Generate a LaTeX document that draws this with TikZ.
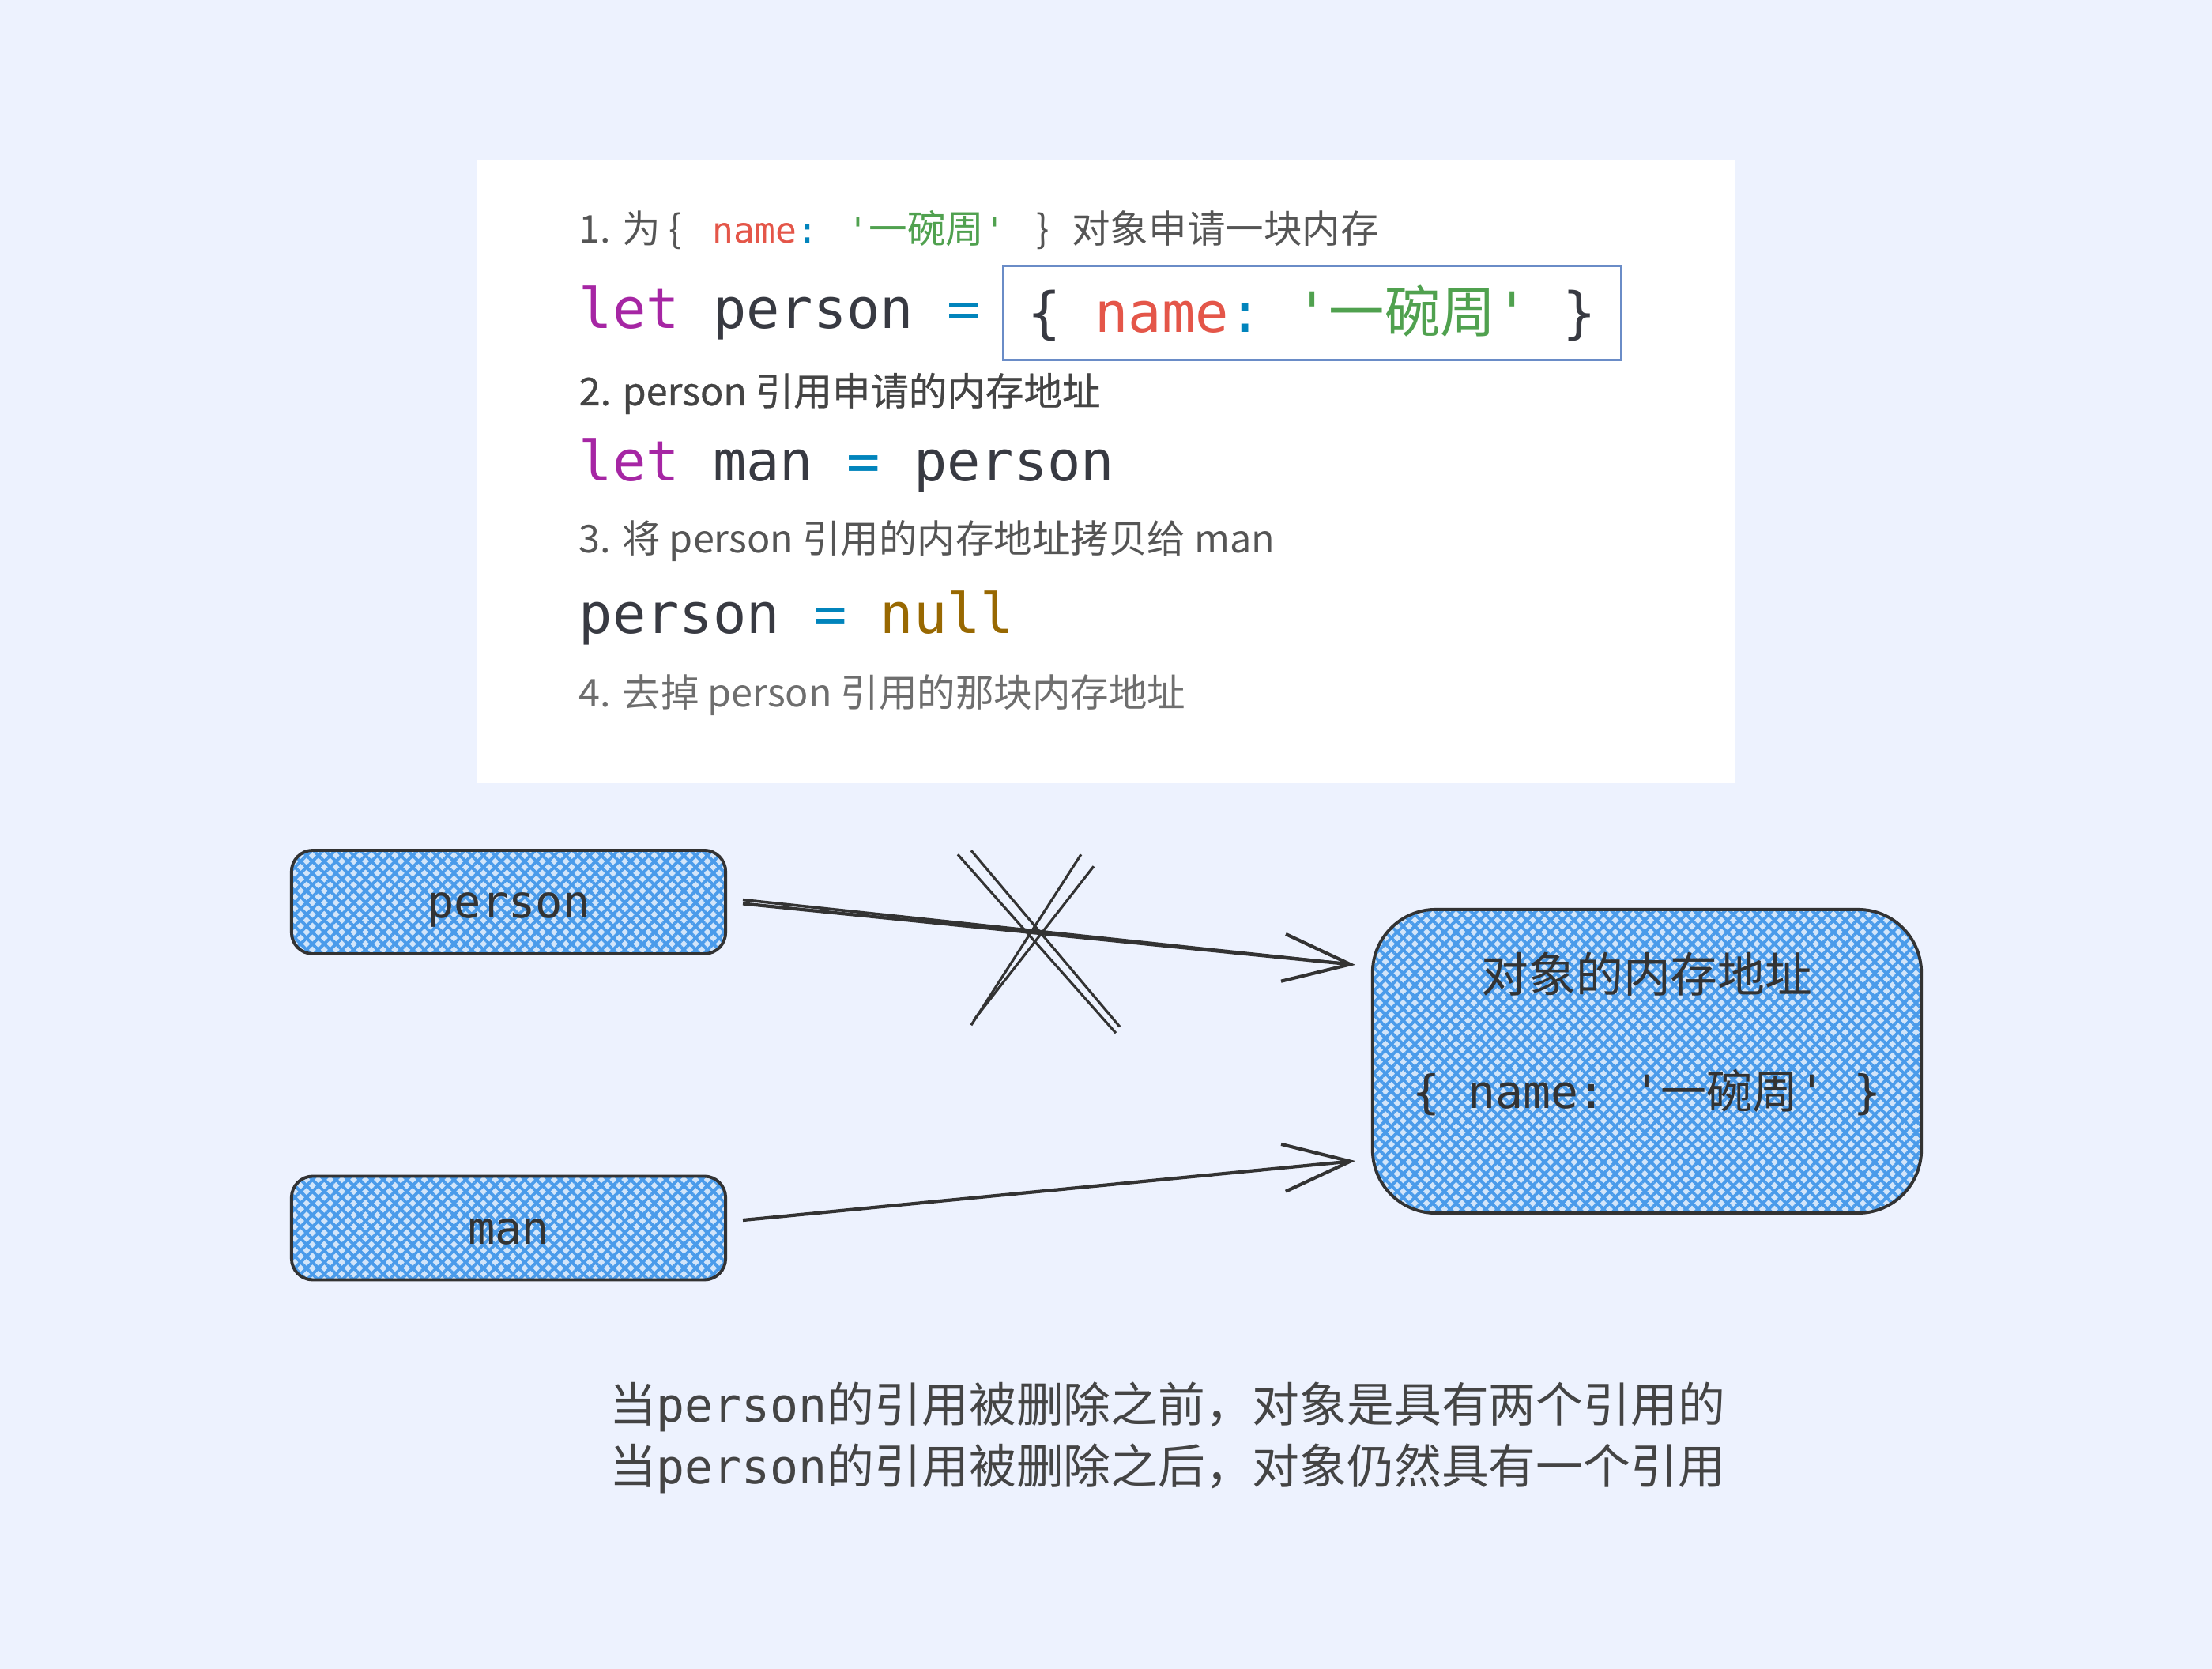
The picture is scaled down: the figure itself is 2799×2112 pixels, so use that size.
\documentclass[tikz,border=0pt]{standalone}
\usepackage{fontspec}
\setmainfont{Noto Sans CJK SC}
\setmonofont{DejaVu Sans Mono}
\newfontfamily\stepbold{Noto Sans CJK SC}[FakeBold=0.6]
\usetikzlibrary{positioning, arrows.meta, patterns.meta}

\definecolor{pagebg}{HTML}{EDF2FE}
\definecolor{kwpurple}{HTML}{A626A4}
\definecolor{codeplain}{HTML}{383A42}
\definecolor{opcyan}{HTML}{0184BC}
\definecolor{keyred}{HTML}{E45649}
\definecolor{strgreen}{HTML}{50A14F}
\definecolor{nullgold}{HTML}{986801}
\definecolor{litborder}{HTML}{6A8CC7}
\definecolor{stepgray}{HTML}{555555}
\definecolor{inkgray}{HTML}{333333}
\definecolor{captiongray}{HTML}{444444}
\definecolor{hatchblue}{HTML}{4A9BEA}
\definecolor{hatchlight}{HTML}{D2E5FA}

\newcommand{\zh}[1]{{\rmfamily #1}}
\newcommand{\sq}{\textquotesingle}
\newcommand{\codesize}{\ttfamily\fontsize{20pt}{24pt}\selectfont}
\newcommand{\codesmall}{\ttfamily\fontsize{12.7pt}{15pt}\selectfont}

\tikzset{
    step-text/.style = {anchor=west, inner sep=0pt, text=stepgray, font=\fontsize{13.8pt}{16pt}\selectfont},
    code-text/.style = {anchor=west, inner sep=0pt, text=codeplain, font=\codesize},
    literal-box/.style = {draw=litborder, thick, inner sep=0pt, minimum width=7.82cm, minimum height=1.19cm, text=codeplain, font=\codesize},
    mem-box/.style = {draw=inkgray, line width=1.1pt, rounded corners=0.27cm, preaction={fill=hatchlight}, pattern={Hatch[angle=45, distance=3pt, line width=1.1pt]}, pattern color=hatchblue, minimum width=5.49cm, minimum height=1.31cm, text height=11.5pt, text depth=0pt, text=inkgray, font=\ttfamily\fontsize{16.2pt}{19pt}\selectfont},
    box-text/.style = {inner sep=0pt, text=inkgray, font=\fontsize{17pt}{20pt}\selectfont},
    ref-arrow/.style = {draw=inkgray, line width=1.2pt, -{Straight Barb[length=0.85cm, width=0.6cm]}, shorten <=0.2cm, shorten >=0.2cm},
    ref-line/.style = {draw=inkgray, line width=1pt, shorten <=0.2cm, shorten >=0.3cm},
    cross-line/.style = {draw=inkgray, line width=0.9pt},
    caption-text/.style = {align=left, inner sep=0pt, text=captiongray, font=\fontsize{17pt}{22.2pt}\selectfont},
}

\begin{document}
\begin{tikzpicture}[x=0.01cm, y=0.01cm]
\useasboundingbox (0,0) rectangle (2799,2112);
\fill[pagebg] (0,0) rectangle (2799,2112);
\fill[white] (603,1121) rectangle (2196,1910);

% code steps
\node[step-text] (step-one) at (732,1821) {1. 为 \{ {\codesmall\ \color{keyred}name}{\codesmall\color{opcyan}:}\hspace{0.37cm}{\codesmall\color{strgreen}\sq}{\color{strgreen}一碗周}{\codesmall\color{strgreen}\sq}\hspace{0.39cm}\}\hspace{0.29cm}对象申请一块内存};
\node[code-text] (code-one) at (732,1716) {{\color{kwpurple}let} person {\color{opcyan}=}};
\node[literal-box, right=0.26cm of code-one] (literal) {\{ {\color{keyred}name}{\color{opcyan}:} {\color{strgreen}\sq\zh{一碗周}\sq} \}};
\node[step-text, text=captiongray, font=\stepbold\fontsize{13.8pt}{16pt}\selectfont] (step-two) at (732,1614) {2. person 引用申请的内存地址};
\node[code-text] (code-two) at (732,1523) {{\color{kwpurple}let} man {\color{opcyan}=} person};
\node[step-text] (step-three) at (732,1427) {3. 将 person 引用的内存地址拷贝给 man};
\node[code-text] (code-three) at (732,1330) {person {\color{opcyan}=} {\color{nullgold}null}};
\node[step-text, text=stepgray!85] (step-four) at (732,1232) {4. 去掉 person 引用的那块内存地址};

% references
\node[mem-box] (person) at (643.5,970.5) {person};
\node[mem-box] (man) at (643.5,558) {man};
\node[mem-box, rounded corners=0.8cm, minimum width=6.94cm, minimum height=3.84cm] (obj) at (2084,769) {};
\node[box-text] (obj-title) at ([yshift=-0.84cm]obj.north) {对象的内存地址};
\node[box-text, font=\ttfamily\fontsize{16.5pt}{20pt}\selectfont] (obj-literal) at ([yshift=-2.34cm]obj.north) {\{ name: \sq\zh{一碗周}\sq\ \}};

\draw[ref-arrow] (person.east) -- coordinate[pos=0.476] (cut) ([yshift=1.2cm]obj.west);
\draw[ref-line] ([yshift=0.05cm]person.east) -- ([yshift=1.2cm]obj.west);
\draw[ref-arrow] ([yshift=0.08cm]man.east) -- ([yshift=-1.24cm]obj.west);

% cut mark
\draw[cross-line] ([shift={(-96,99)}]cut) -- ([shift={(104,-127)}]cut);
\draw[cross-line] ([shift={(-79,104)}]cut) -- ([shift={(109,-119)}]cut);
\draw[cross-line] ([shift={(60,99)}]cut) -- ([shift={(-79,-117)}]cut);
\draw[cross-line] ([shift={(76,84)}]cut) -- ([shift={(-76,-111)}]cut);

\node[caption-text] (caption) at (1477,293) {当\texttt{person}的引用被删除之前，对象是具有两个引用的\\当\texttt{person}的引用被删除之后，对象仍然具有一个引用};
\end{tikzpicture}
\end{document}
